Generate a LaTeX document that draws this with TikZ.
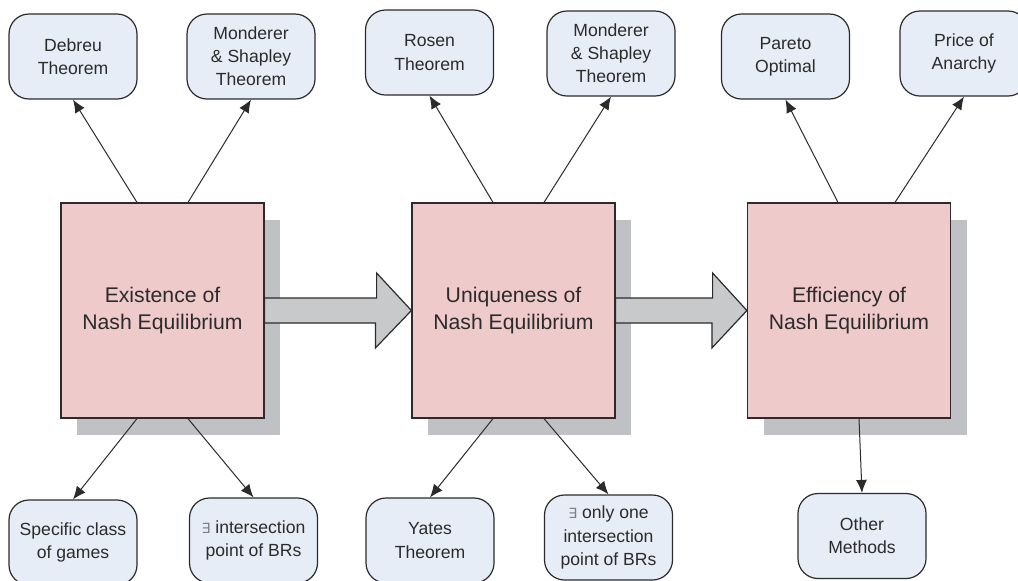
\documentclass[tikz,border=0pt]{standalone}
\usepackage{fontspec}
\setmainfont{Liberation Sans}
\newfontfamily\symfont{DejaVu Sans}
\usetikzlibrary{arrows.meta,shadows}

\definecolor{boxpink}{HTML}{EFCACA}
\definecolor{boxblue}{HTML}{E7EDF6}
\definecolor{shadowgray}{HTML}{C0C1C4}
\definecolor{arrowgray}{HTML}{C8C9CB}
\definecolor{textgray}{HTML}{2B2B2B}
\newcommand{\exsym}{{\color{gray}\fontsize{7pt}{7pt}\symfont ∃}}

\tikzset{
  bigbox/.style={draw=textgray, fill=boxpink, line width=0.6pt,
    minimum width=101.5pt, minimum height=107.5pt, align=center,
    text=textgray, font=\fontsize{10.6pt}{13.5pt}\selectfont,
    drop shadow={shadow xshift=8pt, shadow yshift=-8.5pt, fill=shadowgray, opacity=1}},
  smallbox/.style={draw=textgray, fill=boxblue, line width=0.6pt,
    rounded corners=10pt, minimum width=64pt, minimum height=42.5pt,
    align=center, text=textgray, font=\fontsize{8.8pt}{11.6pt}\selectfont},
  conn/.style={draw=textgray, line width=0.5pt, -{Latex[length=6.5pt,width=5.5pt]}},
  blockarrow/.style={draw=textgray, fill=arrowgray, line width=0.6pt, line join=miter}
}

\begin{document}
\begin{tikzpicture}[x=0.5pt,y=-0.5pt]
  \clip (0,0) rectangle (1018,580);

  % Main stages
  \node[bigbox] (exist)  at (162.5,310.5) {Existence of\\Nash Equilibrium};
  \node[bigbox] (unique) at (513.5,310.5) {Uniqueness of\\Nash Equilibrium};
  \node[bigbox] (effic)  at (849,310.5)   {Efficiency of\\Nash Equilibrium};

  % Block arrows
  \draw[blockarrow] ([yshift=6.25pt]exist.east) -- ++(56pt,0) -- ++(0,12.5pt) -- (unique.west)
    -- ++(-18pt,-18.75pt) -- ++(0,12.5pt) -- ([yshift=-6.25pt]exist.east) -- cycle;
  \draw[blockarrow] ([yshift=6.25pt]unique.east) -- ++(48.5pt,0) -- ++(0,12.5pt) -- (effic.west)
    -- ++(-17.5pt,-18.75pt) -- ++(0,12.5pt) -- ([yshift=-6.25pt]unique.east) -- cycle;

  % Top results
  \node[smallbox] (debreu)   at (73,56.5)    {Debreu\\Theorem};
  \node[smallbox] (monder)   at (251,56.5)   {Monderer\\\& Shapley\\Theorem};
  \node[smallbox] (rosen)    at (429.5,52.5) {Rosen\\Theorem};
  \node[smallbox] (mondertw) at (611,53.5)   {Monderer\\\& Shapley\\Theorem};
  \node[smallbox] (pareto)   at (785.5,56.5) {Pareto\\Optimal};
  \node[smallbox] (anarchy)  at (964,53.5)   {Price of\\Anarchy};

  % Bottom results
  \node[smallbox] (specific) at (73,542.5)    {Specific class\\of games};
  \node[smallbox] (interone) at (253.5,540.5) {\exsym{} intersection\\point of BRs};
  \node[smallbox] (yates)    at (430,540.5)   {Yates\\Theorem};
  \node[smallbox] (intertwo) at (608.5,537.5) {\exsym{} only one\\intersection\\point of BRs};
  \node[smallbox] (other)    at (862,536)     {Other\\Methods};

  % Connectors
  \draw[conn] ([xshift=-12.75pt]exist.north) -- (debreu.south);
  \draw[conn] ([xshift=12.75pt]exist.north) -- (monder.south);
  \draw[conn] ([xshift=-10.25pt]unique.north) -- (rosen.south);
  \draw[conn] ([xshift=15.25pt]unique.north) -- (mondertw.south);
  \draw[conn] ([xshift=-5.5pt]effic.north) -- (pareto.south);
  \draw[conn] ([xshift=23pt]effic.north) -- (anarchy.south);
  \draw[conn] ([xshift=-12.75pt]exist.south) -- (specific.north);
  \draw[conn] ([xshift=12.75pt]exist.south) -- (interone.north);
  \draw[conn] ([xshift=-10.25pt]unique.south) -- (yates.north);
  \draw[conn] ([xshift=15.25pt]unique.south) -- (intertwo.north);
  \draw[conn] ([xshift=5pt]effic.south) -- (other.north);
\end{tikzpicture}
\end{document}
